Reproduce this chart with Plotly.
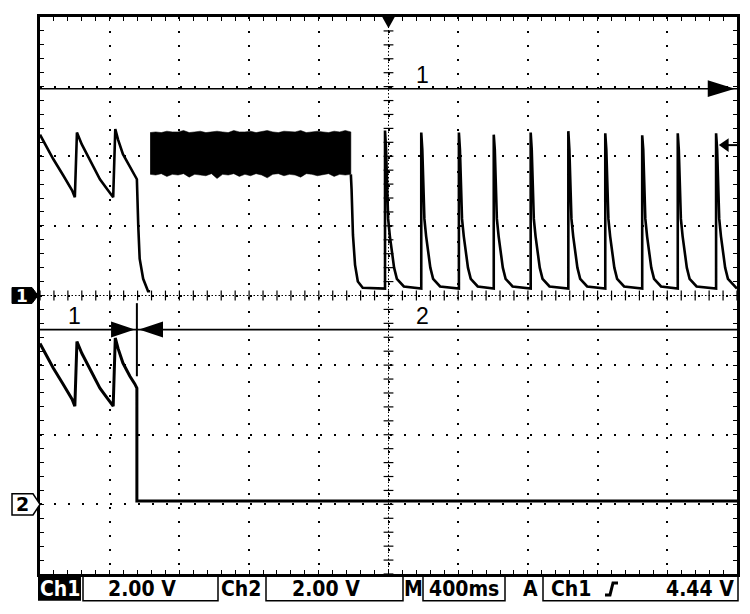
import numpy as np
import plotly.graph_objects as go

# screen is 10 x 8 divisions, values below are in divisions
ch1_ground = 0.0
ch2_ground = -3.0

# sawtooth seen on both channels before the switch-off
saw_x = [0.00, 0.10, 0.19, 0.33, 0.46, 0.50, 0.53, 0.60, 0.69, 0.86, 0.97, 1.05,
         1.08, 1.12, 1.19, 1.29, 1.36, 1.39]
saw_y = [2.31, 2.12, 1.96, 1.73, 1.51, 1.41, 2.34, 2.17, 1.99, 1.67, 1.52, 1.41,
         2.39, 2.24, 2.03, 1.84, 1.73, 1.67]

# ch1 drop after the sawtooth
drop_x = [1.41, 1.43, 1.48, 1.55, 1.58]
drop_y = [0.99, 0.53, 0.24, 0.06, 0.06]

# ch1 dense oscillation band
band_x = [1.58, 1.66, 1.74, 1.82, 1.90, 1.98, 2.06, 2.14, 2.22, 2.30, 2.38, 2.46,
          2.54, 2.62, 2.70, 2.78, 2.86, 2.94, 3.02, 3.10, 3.18, 3.26, 3.34, 3.42,
          3.50, 3.58, 3.66, 3.74, 3.82, 3.90, 3.98, 4.06, 4.14, 4.22, 4.30, 4.38, 4.46]
band_top = [2.34, 2.35, 2.34, 2.36, 2.35, 2.35, 2.37, 2.34, 2.35, 2.36, 2.34, 2.35,
            2.36, 2.35, 2.34, 2.37, 2.35, 2.35, 2.36, 2.34, 2.35, 2.37, 2.35, 2.34,
            2.36, 2.35, 2.35, 2.37, 2.34, 2.35, 2.36, 2.35, 2.34, 2.36, 2.35, 2.37, 2.35]
band_bot = [1.74, 1.73, 1.75, 1.71, 1.74, 1.73, 1.75, 1.70, 1.74, 1.73, 1.72, 1.75,
            1.68, 1.74, 1.73, 1.75, 1.71, 1.74, 1.72, 1.75, 1.73, 1.69, 1.74, 1.75,
            1.72, 1.74, 1.73, 1.70, 1.75, 1.74, 1.72, 1.74, 1.75, 1.71, 1.74, 1.73, 1.74]

# ch1 decay after the band
tail_x = [4.46, 4.47, 4.49, 4.52, 4.56, 4.63]
tail_y = [1.74, 1.53, 0.87, 0.44, 0.20, 0.11]
ch1_base = 0.10

# ch1 pulses
pulse_x = [4.95, 5.47, 6.01, 6.51, 7.04, 7.58, 8.11, 8.64, 9.15, 9.70]
pulse_peak = [2.37, 2.34, 2.34, 2.31, 2.34, 2.36, 2.33, 2.30, 2.33, 2.33]
decay_dx = [0.015, 0.03, 0.045, 0.07, 0.10, 0.13, 0.17, 0.27]
decay_y = [2.10, 1.35, 1.10, 0.85, 0.60, 0.40, 0.24, 0.13]

# ch2 after switch-off
ch2_step_x = 1.39
ch2_flat = 0.05

# cursors / markers
cursor1_y = 2.97
cursor2_y = -0.49
trig_level = 2.16
mark_x = 1.39
mark_y = [-0.11, -1.16]

status_ch1 = "2.00 V"
status_ch2 = "2.00 V"
status_time = "400ms"
status_trig = "4.44 V"


# page pixel -> paper coordinates of the graticule (40..737, 14..574)
def px(xp):
    return (xp - 40) / 697


def py(yp):
    return (574 - yp) / 560


# ---- build ch1 line
c1x = list(saw_x) + drop_x + [None]
c1y = list(saw_y) + drop_y + [None]
c1x += tail_x
c1y += tail_y
for x0, pk in zip(pulse_x, pulse_peak):
    c1x += [x0, x0]
    c1y += [ch1_base, pk]
    c1x += [x0 + d for d in decay_dx]
    c1y += decay_y
c1x.append(10)
c1y.append(ch1_base)
c1y = [None if v is None else v + ch1_ground for v in c1y]

# ---- build ch2 line
c2x = list(saw_x) + [ch2_step_x, 10]
c2y = [v + ch2_ground for v in saw_y] + [ch2_flat + ch2_ground, ch2_flat + ch2_ground]

fig = go.Figure()

# crosshair ticks
ticks_x = np.arange(0, 10.001, 0.2)
ticks_y = np.arange(-4, 4.001, 0.2)
fig.add_trace(go.Scatter(x=ticks_x, y=np.zeros(len(ticks_x)), mode='markers',
                         marker=dict(symbol='line-ns', size=7, line=dict(width=1.2, color='black')),
                         hoverinfo='skip'))
fig.add_trace(go.Scatter(x=np.full(len(ticks_y), 5.0), y=ticks_y, mode='markers',
                         marker=dict(symbol='line-ew', size=7, line=dict(width=1.2, color='black')),
                         hoverinfo='skip'))

fig.add_trace(go.Scatter(x=band_x + band_x[::-1], y=band_top + band_bot[::-1],
                         fill='toself', fillcolor='black', mode='lines',
                         line=dict(color='black', width=0.5), hoverinfo='skip'))
fig.add_trace(go.Scatter(x=c1x, y=c1y, mode='lines', line=dict(color='black', width=2.6),
                         connectgaps=False, hoverinfo='skip'))
fig.add_trace(go.Scatter(x=c2x, y=c2y, mode='lines', line=dict(color='black', width=3),
                         hoverinfo='skip'))

shapes = []
# dense centre lines
shapes.append(dict(type='line', x0=0, x1=10, y0=0, y1=0, xref='x', yref='y',
                   line=dict(color='black', width=1, dash='1.5px,2px'), layer='below'))
shapes.append(dict(type='line', x0=5, x1=5, y0=-4, y1=4, xref='x', yref='y',
                   line=dict(color='black', width=1, dash='1.5px,2px'), layer='below'))
# cursor lines
for cy in (cursor1_y, cursor2_y):
    shapes.append(dict(type='line', x0=0, x1=10, y0=cy, y1=cy, xref='x', yref='y',
                       line=dict(color='black', width=1.6)))
# arrow at right end of cursor 1
shapes.append(dict(type='path', xref='x', yref='y', fillcolor='black', line=dict(width=0),
                   path=f'M 9.58,{cursor1_y + 0.12} L 9.97,{cursor1_y} L 9.58,{cursor1_y - 0.12} Z'))
# arrows on cursor 2
shapes.append(dict(type='path', xref='x', yref='y', fillcolor='black', line=dict(width=0),
                   path=f'M 1.02,{cursor2_y + 0.115} L 1.36,{cursor2_y} L 1.02,{cursor2_y - 0.115} Z'))
shapes.append(dict(type='path', xref='x', yref='y', fillcolor='black', line=dict(width=0),
                   path=f'M 1.765,{cursor2_y + 0.115} L 1.42,{cursor2_y} L 1.765,{cursor2_y - 0.115} Z'))
shapes.append(dict(type='line', xref='x', yref='y', x0=mark_x, x1=mark_x, y0=mark_y[0], y1=mark_y[1],
                   line=dict(color='black', width=2)))
# trigger level arrow
shapes.append(dict(type='path', xref='x', yref='y', fillcolor='black', line=dict(width=0),
                   path=f'M 9.74,{trig_level} L 9.88,{trig_level + 0.1} L 9.88,{trig_level - 0.1} Z'))
shapes.append(dict(type='line', xref='x', yref='y', x0=9.86, x1=10, y0=trig_level, y1=trig_level,
                   line=dict(color='black', width=2)))
# trigger position marker
shapes.append(dict(type='path', xref='x', yref='y', fillcolor='black', line=dict(width=0),
                   path='M 4.91,4 L 5.09,4 L 5.0,3.84 Z'))

# channel ground markers in the left margin
g1 = (ch1_ground + 4) / 8
g2 = (ch2_ground + 4) / 8
shapes.append(dict(type='path', xref='paper', yref='paper', fillcolor='black',
                   line=dict(color='black', width=1),
                   path=f'M {px(12)},{g1 + 0.0143} L {px(32)},{g1 + 0.0143} L {px(38)},{g1} '
                        f'L {px(32)},{g1 - 0.0143} L {px(12)},{g1 - 0.0143} Z'))
shapes.append(dict(type='path', xref='paper', yref='paper', fillcolor='white',
                   line=dict(color='black', width=1.5),
                   path=f'M {px(12)},{g2 + 0.019} L {px(33)},{g2 + 0.019} L {px(40)},{g2} '
                        f'L {px(33)},{g2 - 0.019} L {px(12)},{g2 - 0.019} Z'))

# status bar boxes
shapes.append(dict(type='rect', xref='paper', yref='paper', x0=px(38), x1=px(81),
                   y0=py(601), y1=py(576), fillcolor='black', line=dict(width=0)))
for a, b in ((83, 218), (266, 403), (423, 505), (543, 738)):
    shapes.append(dict(type='rect', xref='paper', yref='paper', x0=px(a), x1=px(b),
                       y0=py(601), y1=py(576), line=dict(color='black', width=1.5)))
# rising edge glyph
shapes.append(dict(type='path', xref='paper', yref='paper', line=dict(color='black', width=3),
                   path=f'M {px(605)},{py(595)} L {px(610)},{py(595)} L {px(613)},{py(583)} '
                        f'L {px(618)},{py(583)}'))

status_font = dict(family='DejaVu Sans Condensed, Liberation Sans Narrow, DejaVu Sans',
                   size=21, color='black', weight='bold')
label_font = dict(family='Liberation Sans, Arial', size=23, color='black')

ann = []


def status(text, xc, color='black'):
    f = dict(status_font)
    f['color'] = color
    ann.append(dict(text=text, x=px(xc), y=py(589), xref='paper', yref='paper',
                    xanchor='center', yanchor='middle', showarrow=False, font=f))


status('Ch1', 59.5, 'white')
status(status_ch1, 142)
status('Ch2', 241)
status(status_ch2, 326)
status('M', 413)
status(status_time, 464)
status('A', 530)
status('Ch1', 571)
ann.append(dict(text=status_trig, x=px(736), y=py(589), xref='paper', yref='paper',
                xanchor='right', yanchor='middle', showarrow=False, font=status_font))

# cursor labels
for t, x, y in (('1', 5.49, 3.17), ('2', 5.49, -0.30), ('1', 0.50, -0.30)):
    ann.append(dict(text=t, x=x, y=y, xref='x', yref='y', showarrow=False,
                    xanchor='center', yanchor='middle', font=label_font))

# marker labels
ann.append(dict(text='1', x=px(22), y=g1, xref='paper', yref='paper', showarrow=False,
                xanchor='center', yanchor='middle',
                font=dict(family='DejaVu Sans', size=17, color='white', weight='bold')))
ann.append(dict(text='2', x=px(22.5), y=g2, xref='paper', yref='paper', showarrow=False,
                xanchor='center', yanchor='middle',
                font=dict(family='DejaVu Sans', size=19, color='black', weight='bold')))

axis_common = dict(showline=True, linewidth=3, linecolor='black', mirror='allticks',
                   showgrid=True, gridcolor='black', gridwidth=1.5, griddash='2px,12px',
                   dtick=1, ticks='inside', ticklen=4, tickwidth=1.2, tickcolor='black',
                   showticklabels=False, zeroline=False, fixedrange=True,
                   minor=dict(dtick=0.2, ticks='inside', ticklen=4, tickwidth=1.2,
                              tickcolor='black', showgrid=False))

# the page adds an 8px body margin, so the figure is 8px smaller and the
# left/top margins 8px narrower to land the graticule at 40..737 x 14..574
fig.update_layout(
    width=742, height=606,
    margin=dict(l=32, r=13, t=6, b=40),
    paper_bgcolor='white', plot_bgcolor='white',
    showlegend=False,
    xaxis=dict(range=[0, 10], **axis_common),
    yaxis=dict(range=[-4, 4], **axis_common),
    shapes=shapes,
    annotations=ann,
)

fig.write_html("out.html")
